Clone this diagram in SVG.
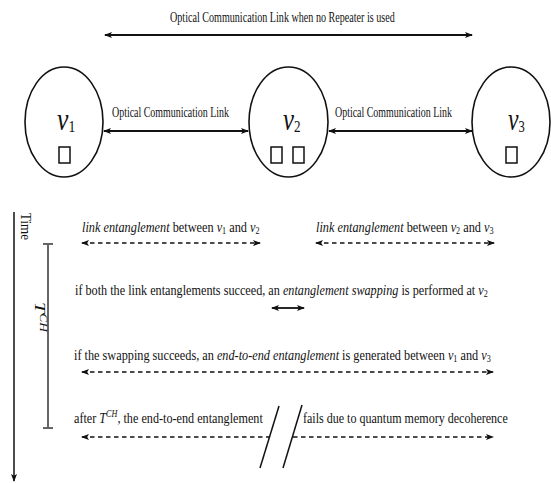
<svg xmlns="http://www.w3.org/2000/svg" width="551" height="483" viewBox="0 0 551 483">
  <style>
    .t { font-family: "Liberation Serif", "Times New Roman", serif; font-size: 15px; fill: #111; }
    .lbl { font-family: "Liberation Serif", "Times New Roman", serif; font-size: 32px; font-style: italic; fill: #111; }
    .it { font-style: italic; }
    .node { fill: none; stroke: #111; stroke-width: 1.6; }
    .mem { fill: none; stroke: #111; stroke-width: 1.5; }
    .solid { fill: none; stroke: #111; stroke-width: 1.8; }
    .dash { fill: none; stroke: #111; stroke-width: 1.6; stroke-dasharray: 4.5 3.5; }
    .slash { fill: none; stroke: #111; stroke-width: 1.5; }
    .timeax { fill: none; stroke: #111; stroke-width: 1.5; }
    .tch { fill: none; stroke: #666; stroke-width: 2; }
  </style>
  <defs>
    <marker id="ah" viewBox="0 0 8 6" refX="7" refY="3" markerWidth="8" markerHeight="6" markerUnits="userSpaceOnUse" orient="auto-start-reverse">
      <path d="M0,0 L8,3 L0,6 L1.8,3 z" fill="#111"/>
    </marker>
  </defs>

  <!-- quantum repeater chain nodes -->
  <g id="node-v1">
    <ellipse class="node" cx="64" cy="122" rx="39" ry="55"/>
    <text class="lbl" transform="translate(57,130) scale(0.7,1)" textLength="26" lengthAdjust="spacingAndGlyphs">v<tspan font-size="17" font-style="normal" dy="2">1</tspan></text>
    <rect class="mem" x="59" y="147" width="11" height="16"/>
  </g>
  <g id="node-v2">
    <ellipse class="node" cx="288.5" cy="122" rx="39.5" ry="55"/>
    <text class="lbl" transform="translate(283,130) scale(0.7,1)" textLength="25" lengthAdjust="spacingAndGlyphs">v<tspan font-size="17" font-style="normal" dy="2">2</tspan></text>
    <rect class="mem" x="271" y="147" width="11" height="16"/>
    <rect class="mem" x="293" y="147" width="11" height="16"/>
  </g>
  <g id="node-v3">
    <ellipse class="node" cx="511" cy="122" rx="39" ry="55"/>
    <text class="lbl" transform="translate(508,130) scale(0.7,1)" textLength="24" lengthAdjust="spacingAndGlyphs">v<tspan font-size="17" font-style="normal" dy="2">3</tspan></text>
    <rect class="mem" x="506" y="147" width="11" height="16"/>
  </g>

  <!-- optical links -->
  <g id="connectors">
    <line class="solid" x1="105" y1="35" x2="472" y2="35" marker-start="url(#ah)" marker-end="url(#ah)"/>
    <line class="solid" x1="104" y1="131" x2="248" y2="131" marker-start="url(#ah)" marker-end="url(#ah)"/>
    <line class="solid" x1="329" y1="131" x2="472" y2="131" marker-start="url(#ah)" marker-end="url(#ah)"/>
  </g>
  <g id="link-labels">
    <text class="t" transform="translate(170,22) scale(0.7,1)" textLength="321" lengthAdjust="spacingAndGlyphs">Optical Communication Link when no Repeater is used</text>
    <text class="t" transform="translate(112,117) scale(0.7,1)" textLength="167" lengthAdjust="spacingAndGlyphs">Optical Communication Link</text>
    <text class="t" transform="translate(335,117) scale(0.7,1)" textLength="167" lengthAdjust="spacingAndGlyphs">Optical Communication Link</text>
  </g>

  <!-- time axis and coherence time -->
  <g id="time-axis">
    <line class="timeax" x1="14" y1="212" x2="14" y2="481" marker-end="url(#ah)"/>
    <text class="t" font-size="11" transform="translate(21,213) rotate(90)" textLength="27" lengthAdjust="spacingAndGlyphs">Time</text>
  </g>
  <g id="coherence-time">
    <line class="tch" x1="48" y1="244" x2="48" y2="428"/>
    <line class="tch" x1="43" y1="244" x2="53" y2="244"/>
    <line class="tch" x1="43" y1="428" x2="53" y2="428"/>
    <text class="t it" fill="#444" transform="translate(35,302) rotate(90)" textLength="30" lengthAdjust="spacingAndGlyphs">T<tspan font-size="10" dy="-5">CH</tspan></text>
  </g>

  <!-- protocol steps -->
  <g id="step-link-12">
    <text class="t" transform="translate(82,232) scale(0.8,1)" textLength="222" lengthAdjust="spacingAndGlyphs"><tspan class="it">link entanglement</tspan> between <tspan class="it">v</tspan><tspan font-size="10" dy="2">1</tspan><tspan dy="-2"> and </tspan><tspan class="it">v</tspan><tspan font-size="10" dy="2">2</tspan></text>
    <line class="dash" x1="82" y1="243" x2="260" y2="243" marker-start="url(#ah)" marker-end="url(#ah)"/>
  </g>
  <g id="step-link-23">
    <text class="t" transform="translate(316,232) scale(0.8,1)" textLength="222" lengthAdjust="spacingAndGlyphs"><tspan class="it">link entanglement</tspan> between <tspan class="it">v</tspan><tspan font-size="10" dy="2">2</tspan><tspan dy="-2"> and </tspan><tspan class="it">v</tspan><tspan font-size="10" dy="2">3</tspan></text>
    <line class="dash" x1="316" y1="243" x2="494" y2="243" marker-start="url(#ah)" marker-end="url(#ah)"/>
  </g>
  <g id="step-swap">
    <text class="t" transform="translate(75,295) scale(0.8,1)" textLength="516" lengthAdjust="spacingAndGlyphs">if both the link entanglements succeed, an <tspan class="it">entanglement swapping</tspan> is performed at <tspan class="it">v</tspan><tspan font-size="10" dy="2">2</tspan></text>
    <line class="solid" x1="272" y1="308" x2="304" y2="308" marker-start="url(#ah)" marker-end="url(#ah)"/>
  </g>
  <g id="step-end-to-end">
    <text class="t" transform="translate(74,360) scale(0.8,1)" textLength="521" lengthAdjust="spacingAndGlyphs">if the swapping succeeds, an <tspan class="it">end-to-end entanglement</tspan> is generated between <tspan class="it">v</tspan><tspan font-size="10" dy="2">1</tspan><tspan dy="-2"> and </tspan><tspan class="it">v</tspan><tspan font-size="10" dy="2">3</tspan></text>
    <line class="dash" x1="82" y1="372" x2="493" y2="372" marker-start="url(#ah)" marker-end="url(#ah)"/>
  </g>
  <g id="step-decoherence">
    <text class="t" transform="translate(74,423) scale(0.8,1)" textLength="236" lengthAdjust="spacingAndGlyphs">after <tspan class="it">T</tspan><tspan class="it" font-size="10" dy="-6">CH</tspan><tspan dy="6">, the end-to-end entanglement</tspan></text>
    <text class="t" transform="translate(303,423) scale(0.8,1)" textLength="256" lengthAdjust="spacingAndGlyphs">fails due to quantum memory decoherence</text>
    <line class="dash" x1="82" y1="437" x2="270" y2="437" marker-start="url(#ah)"/>
    <line class="dash" x1="293" y1="437" x2="493" y2="437" marker-end="url(#ah)"/>
    <line class="slash" x1="279" y1="406" x2="260" y2="468"/>
    <line class="slash" x1="302" y1="405" x2="283" y2="468"/>
  </g>
</svg>
